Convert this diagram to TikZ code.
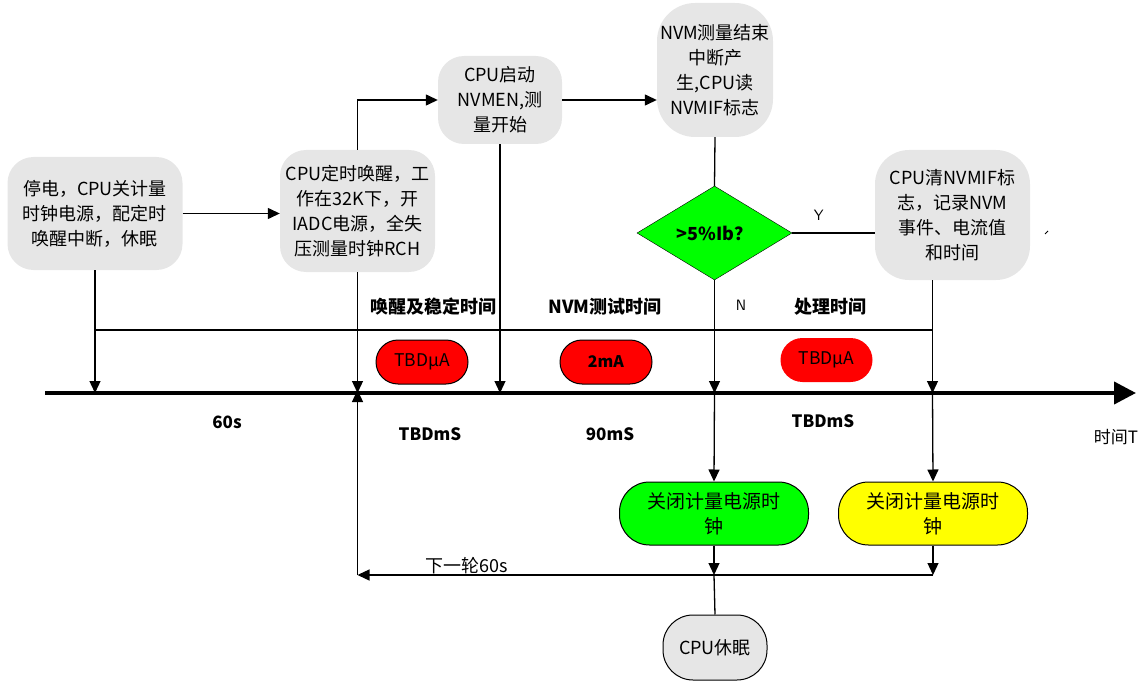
\documentclass[tikz,border=0pt]{standalone}
\usepackage{fontspec}
\setmainfont{Noto Sans CJK SC}
\usetikzlibrary{shapes.geometric,arrows.meta}
\definecolor{boxgray}{RGB}{230,230,230}
\definecolor{pillred}{RGB}{255,0,0}
\definecolor{bgreen}{RGB}{0,255,0}
\definecolor{byellow}{RGB}{255,255,0}
\tikzset{
  graybox/.style={fill=boxgray, rounded corners=26pt, align=center, inner sep=0pt,
    font=\fontsize{18}{25}\selectfont},
  pill/.style={fill=pillred, rounded corners=22pt, minimum width=92pt, minimum height=44pt,
    inner sep=0pt, font=\fontsize{17.5}{20}\selectfont},
  endbox/.style={draw=black, line width=1pt, rounded corners=30pt, minimum width=189pt,
    minimum height=63pt, align=center, inner sep=0pt, font=\fontsize{19}{25}\selectfont},
  lbl/.style={font=\fontsize{18}{20}\selectfont\bfseries, inner sep=0pt},
  tlbl/.style={font=\fontsize{17}{18}\selectfont\bfseries, inner sep=0pt},
  conn/.style={line width=1.3pt},
  arr/.style={line width=1.3pt, -{Triangle[length=12pt,width=11pt]}},
}
\begin{document}
\begin{tikzpicture}[x=1pt,y=-1pt]
\useasboundingbox (0,0) rectangle (1144,682);

% process boxes
\node[graybox, minimum width=175pt, minimum height=113pt] (A) at (95,213.5)
  {停电，CPU关计量\\时钟电源，配定时\\唤醒中断，休眠};
\node[graybox, minimum width=155pt, minimum height=122pt] (B) at (357.5,211)
  {CPU定时唤醒，工\\作在32K下，开\\IADC电源，全失\\压测量时钟RCH};
\node[graybox, minimum width=124pt, minimum height=88pt] (C) at (500,100)
  {CPU启动\\NVMEN,测\\量开始};
\node[graybox, rounded corners=38pt, minimum width=116pt, minimum height=134pt] (D) at (715,70)
  {NVM测量结束\\中断产\\生,CPU读\\NVMIF标志};
\node[draw=black, fill=bgreen, shape=diamond, aspect=1.65, minimum width=155pt, minimum height=94pt,
  inner sep=0pt, font=\fontsize{18}{20}\selectfont\bfseries] (Q) at (714.5,233) {>5\%Ib？};
\node[graybox, rounded corners=34pt, minimum width=155pt, minimum height=130pt] (E) at (952.5,215)
  {CPU清NVMIF标\\志，记录NVM\\事件、电流值\\和时间};
\coordinate (Es) at ([xshift=-20pt]E.south);

\node[endbox, fill=bgreen] (G) at (714,513.5) {关闭计量电源时\\钟};
\node[endbox, fill=byellow] (Yb) at (933,513.5) {关闭计量电源时\\钟};
\node[graybox, draw=black, line width=1pt, rounded corners=30pt, minimum width=104pt,
  minimum height=65pt, font=\fontsize{18}{20}\selectfont] (S) at (715,647.5) {CPU休眠};

% current pills
\node[pill, draw=black, line width=1pt] (P1) at (422,362) {TBDμA};
\node[pill, draw=black, line width=1pt, font=\fontsize{16}{20}\selectfont\bfseries] (P2) at (606,362) {2mA};
\node[pill] (P3) at (826.5,360) {TBDμA};

% time axis
\coordinate (ax0) at (45,393);
\coordinate (ax1) at (1136,393);
\draw[line width=4pt, -{Triangle[length=22pt,width=22pt]}] (ax0) -- (ax1);
\coordinate (hl) at (0,330);
\coordinate (rl) at (0,575);

% connectors
\draw[arr] (A.east) -- (A.east -| B.west);
\draw[arr] (B.north) |- (C.west);
\draw[arr] (C.east) -- (C.east -| D.west);
\draw[conn] (D.south) -- (Q.north);
\draw[conn] (Q.east) -- (Q.east -| E.west) node[pos=0.32, above=9pt, font=\sffamily\fontsize{15}{16}\selectfont] (ly) {Y};
\draw[arr] (A.south) -- (A.south |- ax0);
\draw[conn] (A.south |- hl) -- (Es |- hl);
\draw[arr] (B.south) -- (B.south |- ax0);
\draw[arr] (C.south) -- (C.south |- ax0);
\draw[arr] (Q.south) -- (Q.south |- ax0);
\draw[arr] (Q.south |- ax0) -- (G.north);
\draw[arr] (Es) -- (Es |- ax0);
\draw[arr] (Es |- ax0) -- (Yb.north);
\draw[arr] (G.south) -- (G.south |- rl);
\draw[arr] (Yb.south) -- (Yb.south |- rl);
\draw[arr] (Yb.south |- rl) -- (B.south |- rl);
\draw[arr] (B.south |- rl) -- ([yshift=3pt]B.south |- ax0);
\draw[conn] (G.south |- rl) -- (S.north);

% stray mark
\coordinate (m0) at (1045,234);
\coordinate (m1) at (1048,231);
\draw[line width=1pt] (m0) -- (m1);

% labels
\node[font=\sffamily\fontsize{15}{16}\selectfont] (ln) at (741,305) {N};
\node[lbl] (l1) at (433,307) {唤醒及稳定时间};
\node[lbl] (l2) at (605,307) {NVM测试时间};
\node[lbl] (l3) at (830,307) {处理时间};
\node[tlbl] (t0) at (227,422) {60s};
\node[tlbl] (t1) at (430,434) {TBDmS};
\node[tlbl] (t2) at (610,434) {90mS};
\node[tlbl] (t3) at (823,421) {TBDmS};
\node[font=\fontsize{17}{20}\selectfont, inner sep=0pt] (tt) at (1116,437) {时间T};
\node[font=\fontsize{18}{20}\selectfont, inner sep=0pt] (nx) at (467,566) {下一轮60s};
\end{tikzpicture}
\end{document}
